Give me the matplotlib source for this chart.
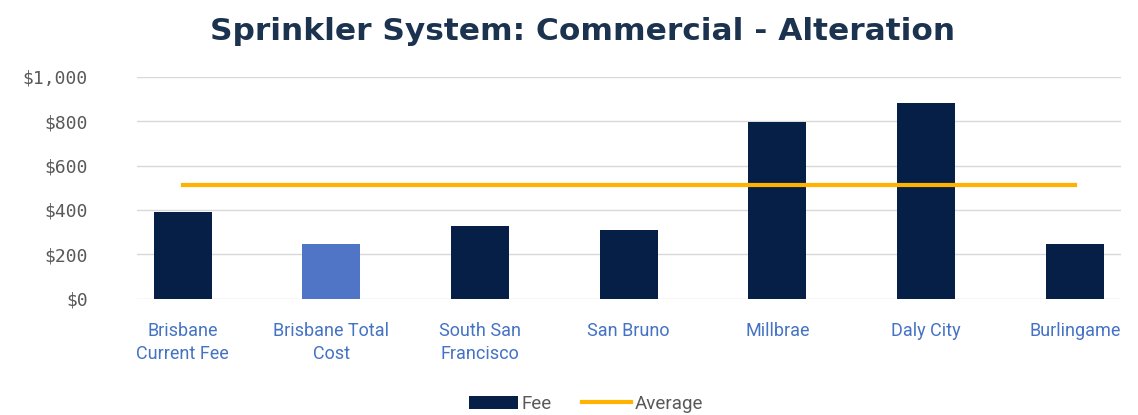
import numpy as np
import matplotlib
matplotlib.use('Agg')
import matplotlib.pyplot as plt

#------------------------Datos--------------------------------
ciudades = ['Brisbane\nCurrent Fee', 'Brisbane Total\nCost', 'South San\nFrancisco',
            'San Bruno', 'Millbrae', 'Daly City', 'Burlingame']
tarifas = [390, 245, 330, 310, 795, 880, 245]
promedio = [512, 512, 512, 512, 512, 512, 512]
colores = ['#061f47', '#5074c6', '#061f47', '#061f47', '#061f47', '#061f47', '#061f47']
ticks_y = [0, 200, 400, 600, 800, 1000]
#-------------------------------------------------------------

fig = plt.figure(figsize=(11.38, 4.15), dpi=100)
ax = fig.add_axes([0.12, 0.28, 0.865, 0.535])

x = np.arange(len(ciudades))
barras = ax.bar(x, tarifas, width=0.39, color=colores, zorder=2)
linea, = ax.plot(x, promedio, color='#ffb300', linewidth=3, zorder=3)

ax.set_xlim(-0.31, 6.31)
ax.set_ylim(0, 1000)
ax.set_yticks(ticks_y)
ax.set_yticklabels(['$' + format(v, ',') for v in ticks_y],
                   family='DejaVu Sans Mono', fontsize=13, color='#595959')
ax.set_xticks(x)
ax.set_xticklabels(ciudades, fontsize=13, color='#4472c4', family='Roboto',
                   linespacing=1.3)
ax.tick_params(axis='both', length=0)
ax.tick_params(axis='x', pad=17)
ax.tick_params(axis='y', pad=35)
ax.grid(axis='y', color='#d9d9d9', linewidth=1, zorder=0)
for s in ax.spines.values():
    s.set_visible(False)

fig.suptitle('Sprinkler System: Commercial - Alteration', x=0.512, y=0.96,
             fontsize=22.5, fontweight='bold', color='#1c3350', family='DejaVu Sans')

leg = fig.legend([barras, linea], ['Fee', 'Average'], loc='lower center',
                 bbox_to_anchor=(0.515, -0.035), ncol=2, frameon=False,
                 prop={'family': 'Roboto', 'size': 13.5}, handlelength=2.6,
                 handletextpad=0.2, columnspacing=1.6)
for t in leg.get_texts():
    t.set_color('#595959')

fig.savefig('out.png', dpi=100)
